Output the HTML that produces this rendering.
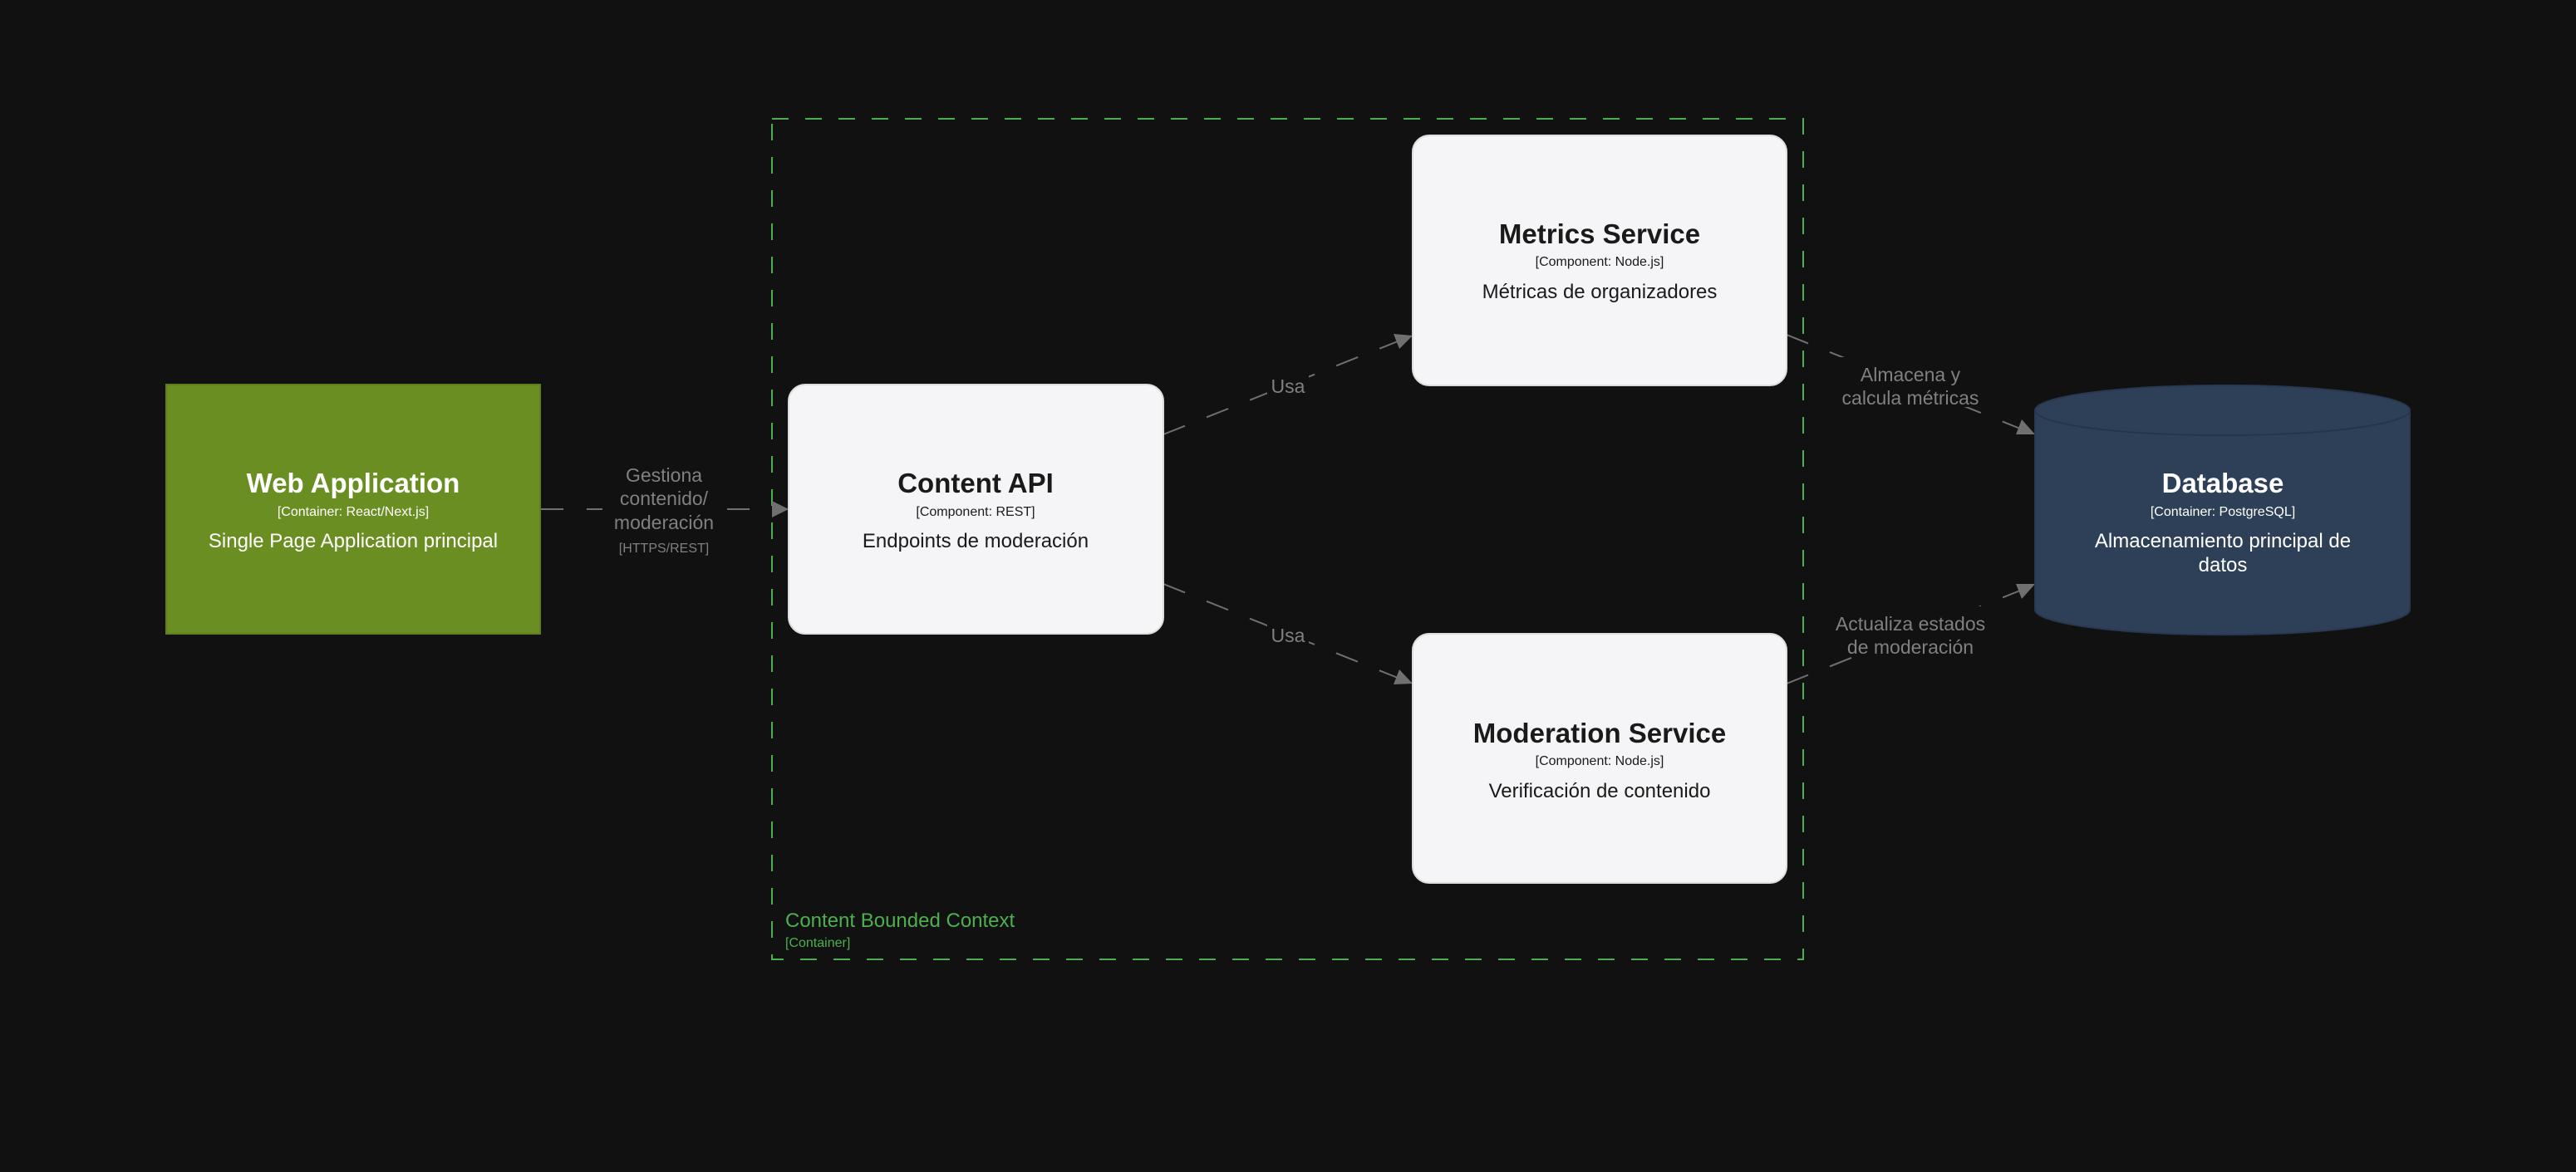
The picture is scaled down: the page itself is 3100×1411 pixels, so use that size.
<!DOCTYPE html>
<html><head><meta charset="utf-8"><style>
html,body{margin:0;padding:0;background:#111111;}
svg{display:block;}
text{font-family:"Liberation Sans",sans-serif;}
</style></head><body>
<svg width="3100" height="1411" viewBox="0 0 3100 1411" xmlns="http://www.w3.org/2000/svg">
<defs>
<marker id="ah" markerWidth="10" markerHeight="10" refX="9" refY="5" orient="auto" markerUnits="userSpaceOnUse" viewBox="0 0 10 10">
</marker>
</defs>
<rect width="3100" height="1411" fill="#111111"/>
<!-- container boundary -->
<rect x="929" y="143" width="1241" height="1012" fill="none" stroke="#4caf50" stroke-width="2" stroke-dasharray="20,20"/>
<text x="945" y="1116" font-size="24" fill="#4caf50">Content Bounded Context</text>
<text x="945" y="1140" font-size="16" fill="#4caf50">[Container]</text>

<!-- edges -->
<g stroke="#707070" stroke-width="2" stroke-dasharray="28,28" fill="none">
<line x1="650" y1="613" x2="930" y2="613"/>
<line x1="1400" y1="523" x2="1682" y2="411"/>
<line x1="1400" y1="703" x2="1682" y2="816"/>
<line x1="2150" y1="403" x2="2431" y2="516"/>
<line x1="2150" y1="823" x2="2431" y2="711"/>
</g>
<g fill="#707070">
<polygon points="949,613 929,603 929,623"/>
<polygon points="1700,404 1677,402 1684,420"/>
<polygon points="1700,823 1684,806 1677,824"/>
<polygon points="2449,523 2433,505 2426,523"/>
<polygon points="2449,703 2426,703 2433,721"/>
</g>
<!-- edge labels -->
<g fill="#808080" text-anchor="middle" font-size="23">
<rect x="725" y="552" width="150" height="120" fill="#111111"/>
<text x="799" y="580">Gestiona</text>
<text x="799" y="608">contenido/</text>
<text x="799" y="637">moderación</text>
<text x="799" y="665" font-size="16">[HTTPS/REST]</text>
<rect x="1525" y="448" width="50" height="30" fill="#111111"/>
<text x="1550" y="473">Usa</text>
<rect x="1525" y="748" width="50" height="30" fill="#111111"/>
<text x="1550" y="773">Usa</text>
<rect x="2205" y="430" width="190" height="60" fill="#111111"/>
<text x="2299" y="459">Almacena y</text>
<text x="2299" y="487">calcula métricas</text>
<rect x="2195" y="730" width="210" height="60" fill="#111111"/>
<text x="2299" y="759">Actualiza estados</text>
<text x="2299" y="787">de moderación</text>
</g>

<!-- Web Application -->
<rect x="200" y="463" width="450" height="300" fill="#6b8e23" stroke="#5f7f1f" stroke-width="2"/>
<g text-anchor="middle" fill="#ffffff">
<text x="425" y="593" font-size="33" font-weight="bold">Web Application</text>
<text x="425" y="621" font-size="16">[Container: React/Next.js]</text>
<text x="425" y="659" font-size="24">Single Page Application principal</text>
</g>

<!-- Content API -->
<rect x="949" y="463" width="451" height="300" rx="20" fill="#f5f5f7" stroke="#dddddd" stroke-width="2"/>
<g text-anchor="middle" fill="#1a1a1a">
<text x="1174" y="593" font-size="33" font-weight="bold">Content API</text>
<text x="1174" y="621" font-size="16">[Component: REST]</text>
<text x="1174" y="659" font-size="24">Endpoints de moderación</text>
</g>

<!-- Metrics Service -->
<rect x="1700" y="163" width="450" height="301" rx="20" fill="#f5f5f7" stroke="#dddddd" stroke-width="2"/>
<g text-anchor="middle" fill="#1a1a1a">
<text x="1925" y="293" font-size="33" font-weight="bold">Metrics Service</text>
<text x="1925" y="320" font-size="16">[Component: Node.js]</text>
<text x="1925" y="359" font-size="24">Métricas de organizadores</text>
</g>

<!-- Moderation Service -->
<rect x="1700" y="763" width="450" height="300" rx="20" fill="#f5f5f7" stroke="#dddddd" stroke-width="2"/>
<g text-anchor="middle" fill="#1a1a1a">
<text x="1925" y="894" font-size="33" font-weight="bold">Moderation Service</text>
<text x="1925" y="921" font-size="16">[Component: Node.js]</text>
<text x="1925" y="960" font-size="24">Verificación de contenido</text>
</g>

<!-- Database -->
<path d="M2449,494 L2449,734 A225,30 0 0 0 2900,734 L2900,494 A225,30 0 0 0 2449,494 Z" fill="#2e4057" stroke="#283850" stroke-width="2"/>
<path d="M2449,494 A225,30 0 0 0 2900,494" fill="none" stroke="#26354a" stroke-width="2"/>
<g text-anchor="middle" fill="#ffffff">
<text x="2675" y="593" font-size="33" font-weight="bold">Database</text>
<text x="2675" y="621" font-size="16">[Container: PostgreSQL]</text>
<text x="2675" y="659" font-size="24">Almacenamiento principal de</text>
<text x="2675" y="688" font-size="24">datos</text>
</g>
</svg>
</body></html>
